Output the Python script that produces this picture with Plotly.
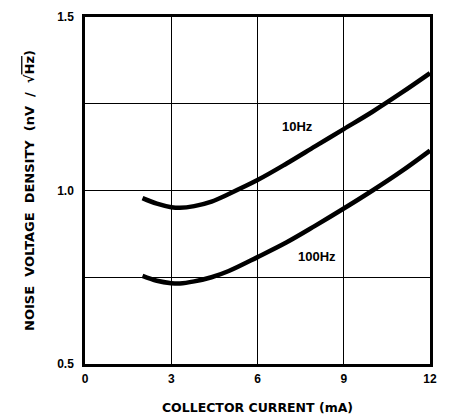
import plotly.graph_objects as go

# Collector current (mA)
current_10hz = [2.0, 2.5, 3.0, 3.3, 3.8, 4.4, 5.0, 6.0, 7.0, 8.0, 9.0, 10.0, 11.0, 12.0]
noise_10hz = [0.978, 0.962, 0.952, 0.950, 0.955, 0.968, 0.990, 1.030, 1.077, 1.127, 1.177, 1.227, 1.281, 1.338]

current_100hz = [2.0, 2.5, 3.0, 3.3, 3.8, 4.4, 5.0, 6.0, 7.0, 8.0, 9.0, 10.0, 11.0, 12.0]
noise_100hz = [0.754, 0.740, 0.733, 0.732, 0.738, 0.750, 0.768, 0.808, 0.850, 0.898, 0.948, 1.000, 1.055, 1.115]

x_tickvals = [0, 3, 6, 9, 12]
x_ticktext = ["0", "3", "6", "9", "12"]
y_tickvals = [0.5, 0.75, 1.0, 1.25, 1.5]
y_ticktext = ["0.5", "", "1.0", "", "1.5"]

label_names = ["10Hz", "100Hz"]
label_x = [7.4, 8.07]
label_y = [1.185, 0.809]

FONT = "Liberation Sans, Arial, sans-serif"
TFONT = "DejaVu Sans, sans-serif"

fig = go.Figure()
fig.add_trace(go.Scatter(x=current_10hz, y=noise_10hz, mode="lines",
                         line=dict(color="black", width=4.5, shape="spline", smoothing=1.0),
                         showlegend=False, hoverinfo="skip"))
fig.add_trace(go.Scatter(x=current_100hz, y=noise_100hz, mode="lines",
                         line=dict(color="black", width=4.5, shape="spline", smoothing=1.0),
                         showlegend=False, hoverinfo="skip"))

for name, lx, ly in zip(label_names, label_x, label_y):
    fig.add_annotation(x=lx, y=ly, text="<b>" + name + "</b>", showarrow=False,
                       font=dict(family=FONT, size=13, color="black"))

ytitle = ("<b>NOISE&nbsp; VOLTAGE&nbsp; DENSITY&nbsp; (nV&nbsp; /&nbsp; "
          "√<span style='text-decoration:overline'>Hz</span>)</b>")

fig.update_layout(
    width=442, height=409,
    margin=dict(l=77, r=20, t=9, b=53),
    paper_bgcolor="white", plot_bgcolor="white",
    font=dict(family=FONT, color="black"),
    xaxis=dict(range=[0, 12], tickvals=x_tickvals, ticktext=x_ticktext,
               showgrid=True, gridcolor="black", gridwidth=1,
               showline=True, linecolor="black", linewidth=2.5, mirror=True,
               zeroline=False, ticks="", automargin=False, ticklabelstandoff=2,
               tickfont=dict(family=FONT, size=12, color="black", weight="bold"),
               title=dict(text="<b>COLLECTOR CURRENT (mA)</b>",
                          font=dict(family=TFONT, size=12.5, color="black"), standoff=19)),
    yaxis=dict(range=[0.5, 1.5], tickvals=y_tickvals, ticktext=y_ticktext,
               showgrid=True, gridcolor="black", gridwidth=1,
               showline=True, linecolor="black", linewidth=2.5, mirror=True,
               zeroline=False, ticks="", automargin=False, ticklabelstandoff=6,
               tickfont=dict(family=FONT, size=12, color="black", weight="bold"),
               title=dict(text=ytitle,
                          font=dict(family=TFONT, size=13, color="black"), standoff=20)),
)

fig.write_html("out.html")
